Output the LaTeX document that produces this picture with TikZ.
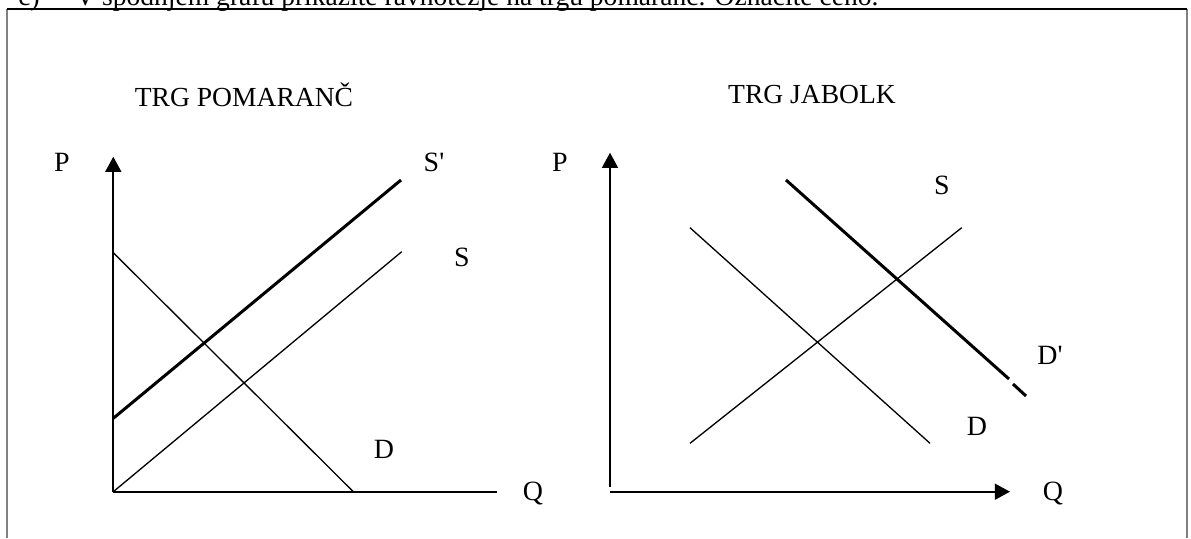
\documentclass[tikz,border=0pt]{standalone}
\usepackage{fontspec}
\setmainfont{Liberation Serif}
\usetikzlibrary{arrows.meta}
\begin{document}
\begin{tikzpicture}[x=0.566pt,y=-0.566pt,
  lbl/.style={font=\fontsize{15.8}{19}\selectfont, inner sep=0pt},
  ttl/.style={font=\fontsize{15.6}{18}\selectfont, inner sep=0pt},
  head/.style={font=\fontsize{15.6}{18}\selectfont, inner sep=0pt},
  axisline/.style={line width=1.15pt},
  axisarrow/.style={line width=1.15pt,-{Triangle[width=9pt,length=8.6pt]}},
  thinline/.style={line width=0.75pt},
  thickline/.style={line width=1.7pt},
  frametop/.style={line width=1.2pt,black},
  frameside/.style={line width=0.9pt,gray}]
\useasboundingbox (0,0) rectangle (1191,538);
\clip (0,0) rectangle (1191,538);
% cut-off heading
\node[head, anchor=base west] (hc) at (18,5) {c)};
\node[head, anchor=base west] (ht) at (75,5) {V spodnjem grafu prikažite ravnotežje na trgu pomaranč. Označite ceno.};
% frame
\coordinate (ftl) at (7,9);
\coordinate (ftr) at (1187,9);
\coordinate (fbl) at (7,538);
\coordinate (fbr) at (1187,538);
\draw[frameside] (ftl) -- (fbl);
\draw[frameside] (ftr) -- (fbr);
\draw[frametop] (ftl) -- (ftr);
% titles
\node[ttl] (t1) at (244,95) {TRG POMARANČ};
\node[ttl] (t2) at (812,95) {TRG JABOLK};
% left graph
\coordinate (o1) at (113.3,491.7);
\coordinate (y1) at (113.3,156.7);
\coordinate (x1) at (497,491.7);
\draw[axisarrow] (o1) -- (y1);
\draw[axisline] (o1) -- (x1);
\coordinate (d1a) at (113.3,252.7);
\coordinate (d1b) at (353.3,491.7);
\draw[thinline] (d1a) -- (d1b);
\coordinate (sp1a) at (113.3,418.3);
\coordinate (sp1b) at (401,180);
\draw[thickline] (sp1a) -- (sp1b);
\coordinate (s1b) at (401.7,251.7);
\draw[thinline] (o1) -- (s1b);
\node[lbl] (P1) at (62,162) {P};
\node[lbl] (Q1) at (533,494) {Q};
\node[lbl] (Sp1) at (434,162) {S\textquotesingle};
\node[lbl] (S1) at (462,257) {S};
\node[lbl] (D1) at (384,449) {D};
% right graph
\coordinate (o2y) at (610,486.7);
\coordinate (y2) at (610,152.7);
\coordinate (o2x) at (610,491.7);
\coordinate (x2) at (1010,491.7);
\draw[axisarrow] (o2y) -- (y2);
\draw[axisarrow] (o2x) -- (x2);
\coordinate (d2a) at (690,227.7);
\coordinate (d2b) at (930,443.3);
\draw[thinline] (d2a) -- (d2b);
\coordinate (s2a) at (690,443.3);
\coordinate (s2b) at (961.7,227.7);
\draw[thinline] (s2a) -- (s2b);
\coordinate (dp2a) at (786,180);
\coordinate (dp2b) at (1009,379);
\coordinate (dp2c) at (1013,384);
\coordinate (dp2d) at (1026,396);
\draw[thickline] (dp2a) -- (dp2b);
\draw[thickline] (dp2c) -- (dp2d);
\node[lbl] (P2) at (560,162) {P};
\node[lbl] (Q2) at (1053,494) {Q};
\node[lbl] (S2) at (942,185) {S};
\node[lbl] (Dp2) at (1050,355) {D\textquotesingle};
\node[lbl] (D2) at (977,426) {D};
\end{tikzpicture}
\end{document}
